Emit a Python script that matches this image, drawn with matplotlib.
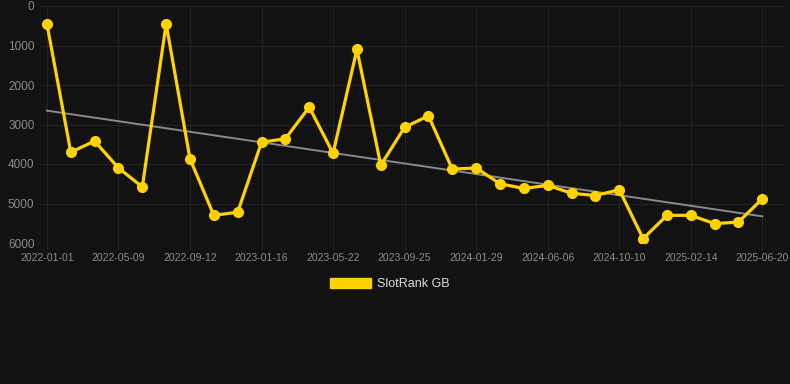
import numpy as np
import matplotlib.pyplot as plt
from matplotlib.patches import Patch

plt.rcParams["font.family"] = ["Liberation Sans", "DejaVu Sans"]

# rank values (lower is better, axis inverted)
ranks = [450, 3700, 3420, 4100, 4580, 450, 3870, 5300, 5220, 3450,
         3360, 2560, 3730, 1100, 4030, 3070, 2780, 4130, 4100, 4500,
         4620, 4540, 4740, 4800, 4650, 5890, 5300, 5300, 5510, 5470, 4880]
tick_labels = ["2022-01-01", "2022-05-09", "2022-09-12", "2023-01-16",
               "2023-05-22", "2023-09-25", "2024-01-29", "2024-06-06",
               "2024-10-10", "2025-02-14", "2025-06-20"]

bg = "#121212"
gold = "#FFD200"

x = np.arange(len(ranks))
fig = plt.figure(figsize=(7.9, 3.84), dpi=100, facecolor=bg)
ax = fig.add_axes([40 / 790, 1 - 243 / 384, 745 / 790, 237 / 384])
ax.set_facecolor(bg)

# trend line
k, b = np.polyfit(x, ranks, 1)
ax.plot(x, k * x + b, color="#8a8a8a", lw=1.4, zorder=2)

ax.plot(x, ranks, color=gold, lw=2.3, marker="o", markersize=7, zorder=3)

ax.set_ylim(6000, 0)
ax.set_yticks(range(0, 7000, 1000))
ax.set_xlim(-0.29, 30.95)
ax.set_xticks(x[::3])
ax.set_xticklabels(tick_labels)

ax.grid(True, color="#232323", lw=0.8)
for s in ax.spines.values():
    s.set_visible(False)
ax.tick_params(axis="y", colors="#8c8c8c", labelsize=8.5, length=0, pad=4)
ax.tick_params(axis="x", colors="#8c8c8c", labelsize=7.5, length=5,
               color="#232323", pad=2)

fig.legend(handles=[Patch(facecolor=gold, edgecolor=gold)], labels=["SlotRank GB"],
           loc="center", bbox_to_anchor=(390 / 790, 1 - 284 / 384), frameon=False,
           handlelength=3.3, handleheight=0.9, fontsize=9, labelcolor="#dddddd",
           handletextpad=0.5)

fig.savefig("out.png", dpi=100, facecolor=bg)
